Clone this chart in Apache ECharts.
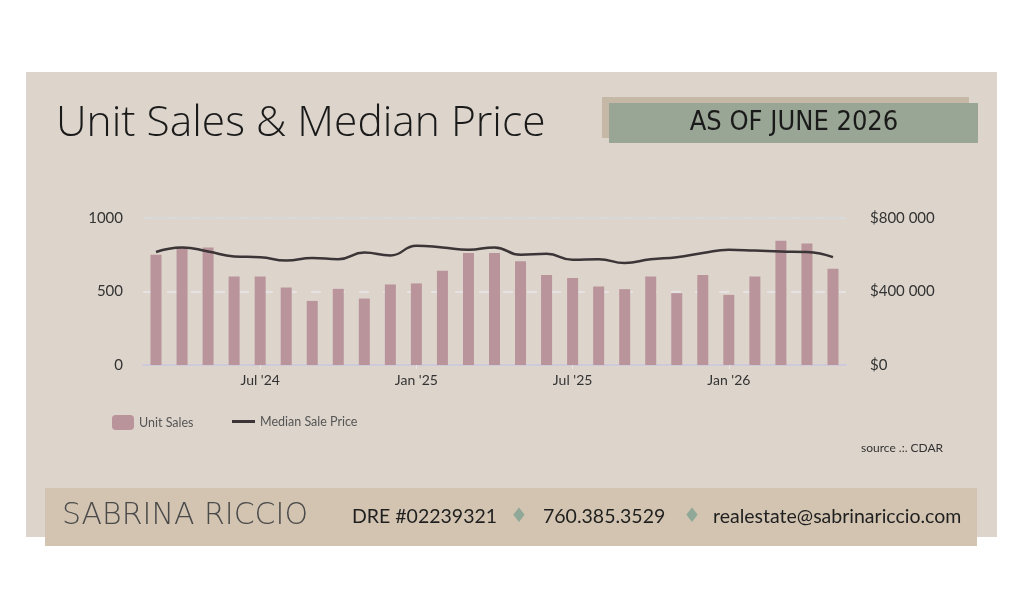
<!DOCTYPE html>
<html>
<head>
<meta charset="utf-8">
<script src="https://cdn.jsdelivr.net/npm/echarts@6/dist/echarts.min.js"></script>
<style>
  html, body { margin: 0; padding: 0; background: #ffffff; }
  #chart { width: 1024px; height: 607px; }
</style>
</head>
<body>
<div id="chart"></div>
<script>
// 月份 (Mar 2024 - May 2026)
var months = ['Mar \'24', 'Apr \'24', 'May \'24', 'Jun \'24', 'Jul \'24', 'Aug \'24', 'Sep \'24', 'Oct \'24', 'Nov \'24', 'Dec \'24',
    'Jan \'25', 'Feb \'25', 'Mar \'25', 'Apr \'25', 'May \'25', 'Jun \'25', 'Jul \'25', 'Aug \'25', 'Sep \'25', 'Oct \'25', 'Nov \'25', 'Dec \'25',
    'Jan \'26', 'Feb \'26', 'Mar \'26', 'Apr \'26', 'May \'26'];
// 成交量
var unitSales = [750, 805, 800, 602, 602, 527, 436, 518, 452, 548, 555, 641, 762,
    762, 705, 612, 591, 534, 516, 602, 489, 612, 477, 602, 846, 827, 655];
// 中位价
var medianPrice = [615000, 640000, 618000, 591000, 587000, 569000, 582000, 576000, 612000, 596000, 649000, 640000, 627000,
    640000, 600000, 605000, 573000, 576000, 555000, 576000, 587000, 609000, 627000, 623000, 618000, 615000, 587000];
var leftTicks = [0, 500, 1000];
var rightTicks = [0, 400000, 800000];

var font = 'Lato, "Noto Sans", sans-serif';

function showMonth(index, value) {
    return value.indexOf('Jul') === 0 || value.indexOf('Jan') === 0;
}

(function () {
    let myEchart = echarts.init(document.getElementById('chart'));
    let option = {
        backgroundColor: '#ffffff',
        animation: false,
        graphic: [
            // 背景面板
            { type: 'rect', shape: { x: 26, y: 72, width: 971, height: 465 }, style: { fill: '#ddd5cc' }, z: -10 },
            // 标签
            { type: 'rect', shape: { x: 602, y: 97, width: 367, height: 41 }, style: { fill: '#c5b8a6' }, z: -9 },
            { type: 'rect', shape: { x: 609, y: 103, width: 369, height: 40 }, style: { fill: '#9aa695' }, z: -8 },
            { type: 'text', x: 794, y: 123, style: { text: 'AS OF JUNE 2026', fill: '#1a1a1a', align: 'center', verticalAlign: 'middle', font: '500 27px "DejaVu Sans Condensed", "DejaVu Sans", sans-serif' }, z: 5 },
            // 标题
            { type: 'text', x: 56, y: 124, style: { text: 'Unit Sales & Median Price', fill: '#1a1a1a', verticalAlign: 'middle', font: '300 42.5px "Open Sans", sans-serif' }, z: 5 },
            // 来源
            { type: 'text', left: 861, top: 442, style: { text: 'source .:. CDAR', fill: '#333333', font: '12px ' + font }, z: 5 },
            // 底部信息条
            { type: 'rect', shape: { x: 45, y: 488, width: 932, height: 58 }, style: { fill: '#d2c4b1' }, z: -7 },
            { type: 'text', x: 62, y: 516, style: { text: 'SABRINA RICCIO', fill: '#4a4a4a', verticalAlign: 'middle', font: '300 30px "DejaVu Sans", sans-serif' }, z: 5 },
            { type: 'text', x: 352, y: 517, style: { text: 'DRE #02239321', fill: '#1f1f1f', verticalAlign: 'middle', font: '19.5px ' + font }, z: 5 },
            { type: 'text', x: 519, y: 517, style: { text: '\u2666', fill: '#8fa898', align: 'center', verticalAlign: 'middle', font: '20px "DejaVu Sans", sans-serif' }, z: 5 },
            { type: 'text', x: 543, y: 517, style: { text: '760.385.3529', fill: '#1f1f1f', verticalAlign: 'middle', font: '19.5px ' + font }, z: 5 },
            { type: 'text', x: 692, y: 517, style: { text: '\u2666', fill: '#8fa898', align: 'center', verticalAlign: 'middle', font: '20px "DejaVu Sans", sans-serif' }, z: 5 },
            { type: 'text', x: 713, y: 517, style: { text: 'realestate@sabrinariccio.com', fill: '#1f1f1f', verticalAlign: 'middle', font: '19.5px ' + font }, z: 5 }
        ],
        legend: [
            {
                left: 107,
                top: 410,
                itemWidth: 22,
                itemHeight: 15,
                textStyle: { color: '#555555', fontSize: 12.5, fontFamily: font },
                data: [{ name: 'Unit Sales', icon: 'roundRect' }]
            },
            {
                left: 227,
                top: 410,
                itemWidth: 23,
                itemHeight: 3,
                textStyle: { color: '#555555', fontSize: 12.5, fontFamily: font },
                data: [{ name: 'Median Sale Price', icon: 'rect' }]
            }
        ],
        grid: {
            left: 143,
            right: 178,
            top: 218,
            bottom: 242
        },
        xAxis: {
            type: 'category',
            data: months,
            axisLine: { lineStyle: { color: '#cfc9dc', width: 2 } },
            axisTick: { show: true, interval: showMonth, alignWithLabel: true, length: 4, lineStyle: { color: '#e8e4ea' } },
            axisLabel: { interval: showMonth, color: '#333333', fontSize: 14, fontFamily: font, margin: 8 }
        },
        yAxis: [
            {
                type: 'value',
                min: leftTicks[0],
                max: leftTicks[leftTicks.length - 1],
                interval: 500,
                axisLine: { show: false },
                axisTick: { show: false },
                axisLabel: {
                    color: '#333333', fontSize: 15, fontFamily: font, margin: 20,
                    formatter: function (v) {
                        return String(v);
                    }
                },
                splitLine: { lineStyle: { color: '#e9e6ea', type: [10, 14], width: 1.5 } }
            },
            {
                type: 'value',
                min: rightTicks[0],
                max: rightTicks[rightTicks.length - 1],
                interval: 400000,
                axisLine: { show: false },
                axisTick: { show: false },
                axisLabel: {
                    color: '#333333', fontSize: 15, fontFamily: font, margin: 24,
                    formatter: function (v) {
                        return '$' + String(v).replace(/\B(?=(\d{3})+(?!\d))/g, ' ');
                    }
                },
                splitLine: { show: false }
            }
        ],
        series: [
            {
                name: 'Unit Sales',
                type: 'bar',
                data: unitSales,
                barWidth: 11,
                itemStyle: { color: '#b9949b' },
                markLine: {
                    silent: true,
                    symbol: 'none',
                    label: { show: false },
                    lineStyle: { color: '#d3d7da', type: 'solid', width: 1.5 },
                    data: [{ yAxis: leftTicks[leftTicks.length - 1] }]
                }
            },
            {
                name: 'Median Sale Price',
                type: 'line',
                yAxisIndex: 1,
                data: medianPrice,
                smooth: true,
                showSymbol: false,
                symbol: 'none',
                lineStyle: { color: '#3b3538', width: 2.5 },
                itemStyle: { color: '#3b3538' }
            }
        ]
    };
    myEchart.setOption(option);
    window.addEventListener('resize', function () {
        myEchart.resize();
    })
})();
</script>
</body>
</html>
